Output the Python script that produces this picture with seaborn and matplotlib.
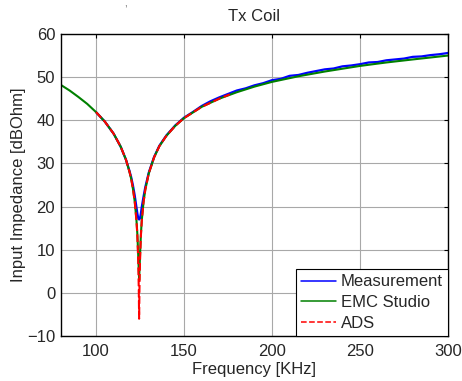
import matplotlib
matplotlib.use("Agg")
import matplotlib.pyplot as plt
import seaborn as sns
import numpy as np

# ---- data ----
emc_freq = [80, 85, 90, 95, 100, 105, 110, 114, 117, 119, 120, 121, 122, 123, 123.5, 124, 124.5,
            125, 125.5, 126, 127, 128, 130, 133, 136, 140, 145, 150, 160, 170, 180, 190, 200,
            215, 230, 250, 265, 280, 300]
emc_db = [48.2, 46.9, 45.4, 43.8, 41.9, 39.7, 36.9, 33.9, 30.9, 28.1, 26.4, 24.1, 21.2, 16.8, 13.6, 8.6, 3.0,
          8.5, 13.5, 16.8, 21.0, 23.9, 27.7, 31.4, 34.0, 36.4, 38.7, 40.5, 43.1, 45.0, 46.5, 47.8, 48.9,
          50.2, 51.3, 52.6, 53.4, 54.1, 55.0]

meas_freq = [100, 105, 110, 114, 117, 119, 120, 121, 122, 123, 123.5, 124, 124.5, 125, 125.5, 126,
             127, 128, 130, 133, 136, 140, 145, 150, 155, 160, 165, 170, 175, 180, 185, 190, 195,
             200, 205, 210, 215, 220, 225, 230, 235, 240, 245, 250, 255, 260, 265, 270, 275, 280,
             285, 290, 295, 300]
meas_db = [41.9, 39.7, 36.9, 33.9, 30.9, 28.3, 26.8, 24.9, 22.6, 19.8, 18.4, 17.3, 17.0, 17.3, 18.4, 19.9,
           22.3, 24.5, 27.9, 31.5, 34.1, 36.5, 38.8, 40.6, 41.9, 43.3, 44.4, 45.3, 46.1, 46.9, 47.4, 48.1, 48.6,
           49.3, 49.6, 50.3, 50.5, 51.0, 51.4, 51.8, 52.0, 52.5, 52.7, 53.0, 53.4, 53.5, 53.9, 54.1, 54.3, 54.7,
           54.8, 55.1, 55.3, 55.6]

ads_freq = [100, 105, 110, 114, 117, 119, 120, 121, 122, 123, 123.5, 124, 124.3, 124.5, 124.7, 125,
            125.5, 126, 127, 128, 130, 133, 136, 140, 145, 150, 160, 170, 176]
ads_db = [41.9, 39.7, 36.9, 33.9, 30.9, 28.1, 26.4, 24.1, 21.2, 16.7, 13.2, 7.2, 1.0, -6.0, 1.0, 7.2,
          13.1, 16.6, 21.0, 23.9, 27.7, 31.4, 34.0, 36.4, 38.7, 40.5, 43.1, 45.0, 46.0]

title = "Tx Coil"
xlabel = "Frequency [KHz]"
ylabel = "Input Impedance [dBOhm]"
xticks = [100, 150, 200, 250, 300]
yticks = [-10, 0, 10, 20, 30, 40, 50, 60]

sns.set_style("white")
plt.rcParams["font.family"] = ["Liberation Sans", "DejaVu Sans"]

fig = plt.figure(figsize=(4.62, 3.81), dpi=100)
ax = fig.add_axes([0.1316, 0.1181, 0.9697 - 0.1316, 0.9108 - 0.1181])

sns.lineplot(x=meas_freq, y=meas_db, ax=ax, color="#0000ff", linewidth=1.6, label="Measurement")
sns.lineplot(x=emc_freq, y=emc_db, ax=ax, color="#008000", linewidth=1.5, label="EMC Studio")
sns.lineplot(x=ads_freq, y=ads_db, ax=ax, color="#ff0000", linewidth=1.5, linestyle="--", label="ADS")

ax.set_xlim(80, 300)
ax.set_ylim(-10, 60)
ax.set_xticks(xticks)
ax.set_yticks(yticks)
ax.grid(True, color="#a8a8a8", linewidth=0.8)
ax.set_axisbelow(True)
ax.tick_params(direction="in", length=3, labelsize=12, top=True, right=True, color="black")
ax.tick_params(axis="x", pad=6)
ax.tick_params(axis="y", pad=4)
for s in ax.spines.values():
    s.set_color("black")
    s.set_linewidth(1.0)
ax.set_title(title, fontsize=12, pad=9)
ax.set_xlabel(xlabel, fontsize=12, labelpad=2)
ax.set_ylabel(ylabel, fontsize=12, labelpad=1)

leg = ax.legend(loc="lower right", fontsize=12, frameon=True, fancybox=False,
                borderpad=0.3, labelspacing=0.35, handlelength=2.1, borderaxespad=0,
                handletextpad=0.3)
leg.get_frame().set_edgecolor("black")
leg.get_frame().set_linewidth(0.8)
leg.get_frame().set_alpha(1.0)
for ln in leg.get_lines():
    ln.set_linewidth(1.1)

fig.text(125 / 462, 1 - 4 / 381, ",", fontsize=7, color="#555555", ha="center", va="center")

fig.savefig("out.png", dpi=100)
